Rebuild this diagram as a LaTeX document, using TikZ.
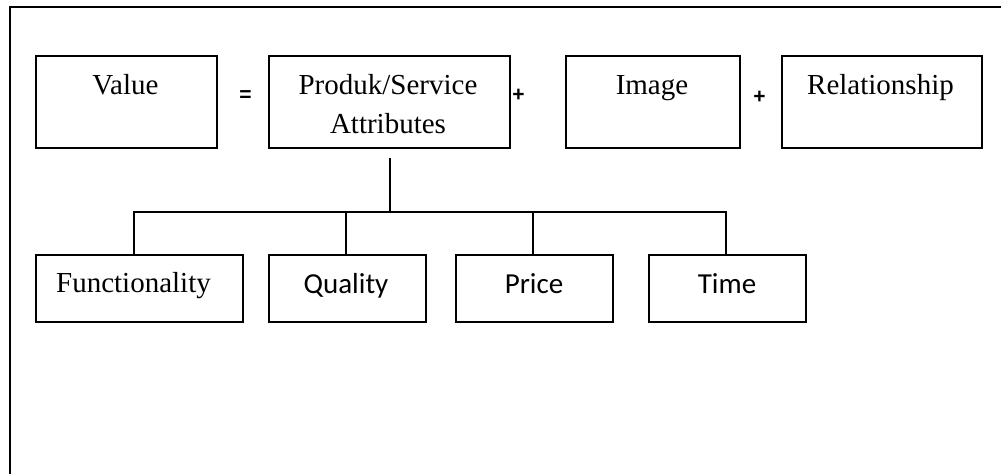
\documentclass[tikz,border=0pt]{standalone}
\usepackage{fontspec}
\setmainfont{Liberation Serif}
\newfontfamily\carlitofont{Carlito}
\newfontfamily\symfont{Liberation Sans}
\begin{document}
\begin{tikzpicture}[x=1pt,y=-1pt,
  box/.style={draw,line width=1.5pt,rectangle,inner sep=0pt,anchor=north west},
  serif/.style={anchor=base,inner sep=0pt,font=\fontsize{29}{39}\selectfont},
  sans/.style={anchor=base,inner sep=0pt,font=\carlitofont\fontsize{29}{35}\selectfont},
  sym/.style={inner sep=0pt,font=\symfont\bfseries\fontsize{21}{24}\selectfont},
  wire/.style={line width=1.5pt}]
\useasboundingbox (0,0) rectangle (1001,474);

% open frame: top and left edges only
\draw[line width=1.4pt] (10,474) -- (10,7) -- (1001,7);

% top row
\node[box,minimum width=181pt,minimum height=92pt] (value) at (35,55) {};
\node[box,minimum width=241pt,minimum height=92pt] (attr) at (268,55) {};
\node[box,minimum width=174pt,minimum height=92pt] (image) at (565,55) {};
\node[box,minimum width=200pt,minimum height=92pt] (rel) at (781,55) {};

\node[serif] (valuetxt) at (125.5,94) {Value};
\node[serif] (attrtxt1) at (388,94) {Produk/Service};
\node[serif] (attrtxt2) at (388,133) {Attributes};
\node[serif] (imagetxt) at (652,94) {Image};
\node[serif] (reltxt) at (880.5,94) {Relationship};

\node[sym] (eq) at (245.5,96.5) {=};
\node[sym] (plusa) at (518.5,95) {+};
\node[sym] (plusb) at (759.5,97.5) {+};

% bottom row
\node[box,minimum width=207pt,minimum height=67pt] (func) at (35,254) {};
\node[box,minimum width=157pt,minimum height=67pt] (qual) at (268,254) {};
\node[box,minimum width=157pt,minimum height=67pt] (price) at (455,254) {};
\node[box,minimum width=157pt,minimum height=67pt] (time) at (648,254) {};

\node[serif] (functxt) at (133.5,292) {Functionality};
\node[sans] (qualtxt) at (346,293) {Quality};
\node[sans] (pricetxt) at (534,293) {Price};
\node[sans] (timetxt) at (727,293) {Time};

% tree of attributes
\coordinate (stem) at (390,158);
\coordinate (hub) at (390,212);
\draw[wire] (stem) -- (hub);
\draw[wire] ([xshift=-5.5pt]func.north) |- (hub) -| ([xshift=-1.5pt]time.north);
\draw[wire] ([xshift=-1.5pt]qual.north) |- (hub);
\draw[wire] ([xshift=-1.5pt]price.north) |- (hub);
\end{tikzpicture}
\end{document}
